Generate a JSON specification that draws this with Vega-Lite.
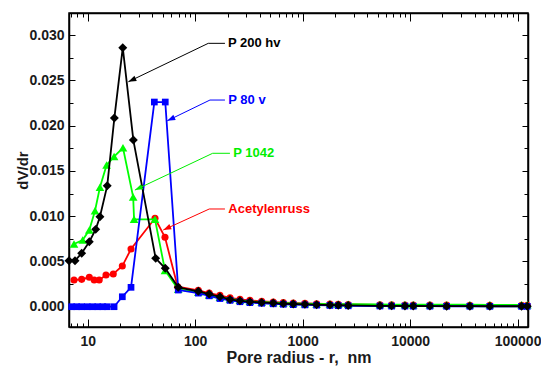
{
  "$schema": "https://vega.github.io/schema/vega-lite/v6.json",
  "width": 459,
  "height": 314,
  "autosize": {"type": "none"},
  "padding": {"left": 69, "top": 13, "right": 13, "bottom": 39},
  "background": "white",
  "config": {
    "font": "Liberation Sans",
    "view": {"stroke": "#000000", "strokeWidth": 1.5},
    "axis": {
      "grid": false,
      "domainColor": "#000000",
      "domainWidth": 1.5,
      "tickColor": "#000000",
      "tickWidth": 1,
      "labelFont": "Liberation Sans",
      "labelFontWeight": "bold",
      "labelFontSize": 14,
      "labelColor": "#1a1a1a",
      "titleFont": "Liberation Sans",
      "titleFontWeight": "bold",
      "titleColor": "#1a1a1a"
    }
  },
  "datasets": {
    "acetylenruss": [
      {"r": 7.46, "v": 0.00295}, {"r": 8.79, "v": 0.00302}, {"r": 10.35, "v": 0.00325},
      {"r": 11.5, "v": 0.00295}, {"r": 12.8, "v": 0.00295}, {"r": 14.8, "v": 0.0035},
      {"r": 17.3, "v": 0.00361}, {"r": 21.0, "v": 0.00449}, {"r": 25.3, "v": 0.00637},
      {"r": 42.3, "v": 0.00976}, {"r": 52.4, "v": 0.00766}, {"r": 68.7, "v": 0.00221},
      {"r": 107, "v": 0.0018}, {"r": 135, "v": 0.0015}, {"r": 170, "v": 0.00125},
      {"r": 211, "v": 0.00098}, {"r": 261, "v": 0.00082}, {"r": 323, "v": 0.0007},
      {"r": 416, "v": 0.0006}, {"r": 533, "v": 0.00052}, {"r": 661, "v": 0.00046},
      {"r": 818, "v": 0.00041}, {"r": 1050, "v": 0.00037}, {"r": 1349, "v": 0.00033},
      {"r": 1794, "v": 0.00029}, {"r": 2144, "v": 0.00027}, {"r": 2655, "v": 0.00025},
      {"r": 5236, "v": 0.00021}, {"r": 6730, "v": 0.0002}, {"r": 8950, "v": 0.00019},
      {"r": 10700, "v": 0.00019}, {"r": 15280, "v": 0.00018}, {"r": 21870, "v": 0.00018},
      {"r": 35980, "v": 0.00017}, {"r": 55200, "v": 0.00017}, {"r": 108900, "v": 0.00016},
      {"r": 123000, "v": 0.00016}
    ],
    "p1042": [
      {"r": 7.46, "v": 0.00692}, {"r": 8.98, "v": 0.00736}, {"r": 10.35, "v": 0.00847},
      {"r": 11.7, "v": 0.0106}, {"r": 13.0, "v": 0.01318}, {"r": 15.0, "v": 0.01564},
      {"r": 17.6, "v": 0.01658}, {"r": 21.3, "v": 0.01755}, {"r": 26.5, "v": 0.01211},
      {"r": 27.0, "v": 0.00965}, {"r": 42.3, "v": 0.00965}, {"r": 52.4, "v": 0.004},
      {"r": 69.6, "v": 0.00192},
      {"r": 107, "v": 0.0016}, {"r": 135, "v": 0.0013}, {"r": 170, "v": 0.00105},
      {"r": 211, "v": 0.00085}, {"r": 261, "v": 0.0007}, {"r": 323, "v": 0.0006},
      {"r": 416, "v": 0.00052}, {"r": 533, "v": 0.00046}, {"r": 661, "v": 0.00041},
      {"r": 818, "v": 0.00037}, {"r": 1050, "v": 0.00034}, {"r": 1349, "v": 0.00031},
      {"r": 1794, "v": 0.00029}, {"r": 2144, "v": 0.00028}, {"r": 2655, "v": 0.00027},
      {"r": 5236, "v": 0.00025}, {"r": 6730, "v": 0.00024}, {"r": 8950, "v": 0.00024},
      {"r": 10700, "v": 0.00023}, {"r": 15280, "v": 0.00023}, {"r": 21870, "v": 0.00022},
      {"r": 35980, "v": 0.00022}, {"r": 55200, "v": 0.00021}, {"r": 108900, "v": 0.00021},
      {"r": 123000, "v": 0.00021}
    ],
    "p80v": [
      {"r": 7.1, "v": 0.0}, {"r": 7.9, "v": 0.0}, {"r": 8.79, "v": 0.0},
      {"r": 9.91, "v": 0.0}, {"r": 11.1, "v": 0.0}, {"r": 12.4, "v": 0.0},
      {"r": 13.8, "v": 0.0}, {"r": 15.2, "v": 0.0}, {"r": 17.6, "v": 0.0},
      {"r": 21.0, "v": 0.0011}, {"r": 25.3, "v": 0.00214}, {"r": 41.7, "v": 0.0226},
      {"r": 52.7, "v": 0.0226}, {"r": 69.6, "v": 0.00184},
      {"r": 107, "v": 0.0015}, {"r": 135, "v": 0.0012}, {"r": 170, "v": 0.0009},
      {"r": 211, "v": 0.0007}, {"r": 261, "v": 0.00055}, {"r": 323, "v": 0.00045},
      {"r": 416, "v": 0.00038}, {"r": 533, "v": 0.00032}, {"r": 661, "v": 0.00027},
      {"r": 818, "v": 0.00023}, {"r": 1050, "v": 0.0002}, {"r": 1349, "v": 0.00017},
      {"r": 1794, "v": 0.00014}, {"r": 2144, "v": 0.00012}, {"r": 2655, "v": 0.0001},
      {"r": 5236, "v": 0.00008}, {"r": 6730, "v": 0.00007}, {"r": 8950, "v": 0.00007},
      {"r": 10700, "v": 0.00006}, {"r": 15280, "v": 0.00006}, {"r": 21870, "v": 0.00005},
      {"r": 35980, "v": 0.00005}, {"r": 55200, "v": 0.00004}, {"r": 108900, "v": 0.00004},
      {"r": 123000, "v": 0.00004}
    ],
    "p200hv": [
      {"r": 6.7, "v": 0.00508}, {"r": 7.62, "v": 0.00508}, {"r": 8.79, "v": 0.0059},
      {"r": 10.35, "v": 0.00718}, {"r": 11.87, "v": 0.00854}, {"r": 13.0, "v": 0.00994},
      {"r": 15.2, "v": 0.01336}, {"r": 17.7, "v": 0.02083}, {"r": 21.2, "v": 0.0286},
      {"r": 26.6, "v": 0.0184}, {"r": 42.9, "v": 0.00534}, {"r": 52.7, "v": 0.00424},
      {"r": 69.6, "v": 0.00214},
      {"r": 107, "v": 0.0017}, {"r": 135, "v": 0.0014}, {"r": 170, "v": 0.0011},
      {"r": 211, "v": 0.0008}, {"r": 261, "v": 0.00065}, {"r": 323, "v": 0.00055},
      {"r": 416, "v": 0.00047}, {"r": 533, "v": 0.0004}, {"r": 661, "v": 0.00034},
      {"r": 818, "v": 0.0003}, {"r": 1050, "v": 0.00026}, {"r": 1349, "v": 0.00022},
      {"r": 1794, "v": 0.00018}, {"r": 2144, "v": 0.00016}, {"r": 2655, "v": 0.00014},
      {"r": 5236, "v": 0.0001}, {"r": 6730, "v": 0.00009}, {"r": 8950, "v": 0.00008},
      {"r": 10700, "v": 0.00008}, {"r": 15280, "v": 0.00007}, {"r": 21870, "v": 0.00006},
      {"r": 35980, "v": 0.00006}, {"r": 55200, "v": 0.00005}, {"r": 108900, "v": 0.00005},
      {"r": 123000, "v": 0.00005}
    ],
    "leaders": [
      {"label": "P 200 hv", "seq": 1, "r": 189.3, "v": 0.02908},
      {"label": "P 200 hv", "seq": 2, "r": 132.4, "v": 0.02908},
      {"label": "P 200 hv", "seq": 3, "r": 23.9, "v": 0.02484},
      {"label": "P 80 v", "seq": 1, "r": 189.3, "v": 0.02282},
      {"label": "P 80 v", "seq": 2, "r": 137.3, "v": 0.02282},
      {"label": "P 80 v", "seq": 3, "r": 55.0, "v": 0.02053},
      {"label": "P 1042", "seq": 1, "r": 210.7, "v": 0.01694},
      {"label": "P 1042", "seq": 2, "r": 145.5, "v": 0.01694},
      {"label": "P 1042", "seq": 3, "r": 27.5, "v": 0.01288},
      {"label": "Acetylenruss", "seq": 1, "r": 189.3, "v": 0.01079},
      {"label": "Acetylenruss", "seq": 2, "r": 135.3, "v": 0.01079},
      {"label": "Acetylenruss", "seq": 3, "r": 50.5, "v": 0.00847}
    ],
    "tips": [
      {"label": "P 200 hv", "r": 23.9, "v": 0.02484},
      {"label": "P 80 v", "r": 55.0, "v": 0.02053},
      {"label": "P 1042", "r": 27.5, "v": 0.01288},
      {"label": "Acetylenruss", "r": 50.5, "v": 0.00847}
    ],
    "labels": [
      {"label": "P 200 hv", "r": 201.9, "v": 0.02908},
      {"label": "P 80 v", "r": 203.4, "v": 0.02282},
      {"label": "P 1042", "r": 226, "v": 0.01694},
      {"label": "Acetylenruss", "r": 203.4, "v": 0.01079}
    ]
  },
  "layer": [
    {
      "data": {"name": "acetylenruss"},
      "mark": {"type": "line", "color": "#ff0000", "strokeWidth": 1.8,
               "point": {"shape": "circle", "size": 50, "filled": true, "color": "#ff0000"}},
      "encoding": {
        "x": {"field": "r", "type": "quantitative",
              "scale": {"type": "log", "domain": [6.7, 125000], "nice": false},
              "axis": {
                "orient": "bottom",
                "title": "Pore radius - r,\u00a0 nm",
                "titleFontSize": 16,
                "titleBaseline": "top",
                "titleY": 22,
                "values": [7, 8, 9, 10, 20, 30, 40, 50, 60, 70, 80, 90, 100, 200, 300, 400, 500, 600, 700, 800, 900, 1000, 2000, 3000, 4000, 5000, 6000, 7000, 8000, 9000, 10000, 20000, 30000, 40000, 50000, 60000, 70000, 80000, 90000, 100000],
                "labelExpr": "indexof([10, 100, 1000, 10000, 100000], datum.value) >= 0 ? datum.value + '' : ''",
                "labelOverlap": false,
                "labelFlush": false,
                "labelPadding": 15,
                "tickSize": {"condition": {"test": "indexof([10, 100, 1000, 10000, 100000], datum.value) >= 0", "value": -8}, "value": -4}
              }},
        "y": {"field": "v", "type": "quantitative",
              "scale": {"domain": [-0.00224, 0.03243], "nice": false, "zero": false},
              "axis": {
                "orient": "left",
                "title": "dV/dr",
                "titleFontSize": 15,
                "titleX": -39,
                "values": [0, 0.0025, 0.005, 0.0075, 0.01, 0.0125, 0.015, 0.0175, 0.02, 0.0225, 0.025, 0.0275, 0.03],
                "labelExpr": "abs(datum.value * 200 - round(datum.value * 200)) < 0.01 ? format(datum.value, '.3f') : ''",
                "labelOverlap": false,
                "labelFlush": false,
                "labelPadding": 11,
                "tickSize": {"condition": {"test": "abs(datum.value * 200 - round(datum.value * 200)) < 0.01", "value": -6}, "value": -4}
              }}
      }
    },
    {
      "data": {"name": "p1042"},
      "mark": {"type": "line", "color": "#00ff00", "strokeWidth": 1.8,
               "point": {"shape": "triangle-up", "size": 75, "filled": true, "color": "#00ff00"}},
      "encoding": {
        "x": {"field": "r", "type": "quantitative",
              "scale": {"type": "log", "domain": [6.7, 125000], "nice": false},
              "axis": {
                "orient": "top", "title": null, "labels": false,
                "values": [7, 8, 9, 10, 20, 30, 40, 50, 60, 70, 80, 90, 100, 200, 300, 400, 500, 600, 700, 800, 900, 1000, 2000, 3000, 4000, 5000, 6000, 7000, 8000, 9000, 10000, 20000, 30000, 40000, 50000, 60000, 70000, 80000, 90000, 100000],
                "tickSize": {"condition": {"test": "indexof([10, 100, 1000, 10000, 100000], datum.value) >= 0", "value": -8}, "value": -4}
              }},
        "y": {"field": "v", "type": "quantitative",
              "scale": {"domain": [-0.00224, 0.03243], "nice": false, "zero": false},
              "axis": {
                "orient": "right", "title": null, "labels": false,
                "values": [0, 0.0025, 0.005, 0.0075, 0.01, 0.0125, 0.015, 0.0175, 0.02, 0.0225, 0.025, 0.0275, 0.03],
                "tickSize": {"condition": {"test": "abs(datum.value * 200 - round(datum.value * 200)) < 0.01", "value": -6}, "value": -4}
              }}
      }
    },
    {
      "data": {"name": "p80v"},
      "mark": {"type": "line", "color": "#0000ff", "strokeWidth": 1.8,
               "point": {"shape": "square", "size": 45, "filled": true, "color": "#0000ff"}},
      "encoding": {
        "x": {"field": "r", "type": "quantitative", "axis": null},
        "y": {"field": "v", "type": "quantitative", "axis": null}
      }
    },
    {
      "data": {"name": "p200hv"},
      "mark": {"type": "line", "color": "#000000", "strokeWidth": 1.8,
               "point": {"shape": "diamond", "size": 80, "filled": true, "color": "#000000"}},
      "encoding": {
        "x": {"field": "r", "type": "quantitative", "axis": null},
        "y": {"field": "v", "type": "quantitative", "axis": null}
      }
    },
    {
      "data": {"name": "leaders"},
      "mark": {"type": "line", "strokeWidth": 1},
      "encoding": {
        "x": {"field": "r", "type": "quantitative", "axis": null},
        "y": {"field": "v", "type": "quantitative", "axis": null},
        "order": {"field": "seq"},
        "detail": {"field": "label"},
        "color": {"field": "label", "type": "nominal", "legend": null,
                  "scale": {"domain": ["P 200 hv", "P 80 v", "P 1042", "Acetylenruss"],
                            "range": ["#000000", "#0000ff", "#00ee00", "#ff0000"]}}
      }
    },
    {
      "data": {"name": "tips"},
      "mark": {"type": "point", "filled": true, "opacity": 1, "size": 256, "angle": 245,
               "shape": "M0,0L-0.35,1L0.35,1Z"},
      "encoding": {
        "x": {"field": "r", "type": "quantitative", "axis": null},
        "y": {"field": "v", "type": "quantitative", "axis": null},
        "color": {"field": "label", "type": "nominal", "legend": null}
      }
    },
    {
      "data": {"name": "labels"},
      "mark": {"type": "text", "align": "left", "baseline": "middle", "font": "Liberation Sans",
               "fontWeight": "bold", "fontSize": 13},
      "encoding": {
        "x": {"field": "r", "type": "quantitative", "axis": null},
        "y": {"field": "v", "type": "quantitative", "axis": null},
        "text": {"field": "label"},
        "color": {"field": "label", "type": "nominal", "legend": null}
      }
    }
  ],
  "resolve": {"axis": {"x": "independent", "y": "independent"}}
}
